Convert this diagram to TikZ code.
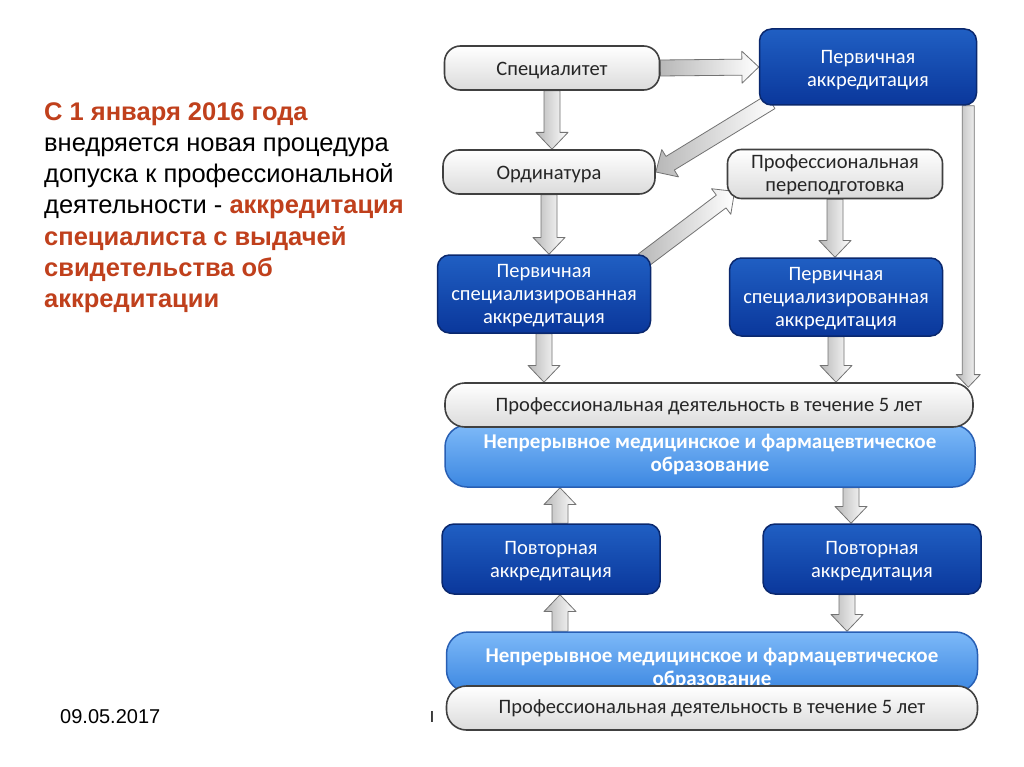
\documentclass[tikz,border=0pt]{standalone}
\usepackage{fontspec}
\setmainfont{Liberation Sans}
\newfontfamily\carl{Carlito}
\usetikzlibrary{calc}
\pgfdeclarelayer{bg}
\pgfdeclarelayer{paper}
\pgfsetlayers{paper,bg,main}
\definecolor{dkblueA}{RGB}{32,95,195}
\definecolor{dkblueB}{RGB}{10,55,155}
\definecolor{dkblueE}{RGB}{10,40,110}
\definecolor{ltblueA}{RGB}{125,185,248}
\definecolor{ltblueB}{RGB}{60,135,225}
\definecolor{ltblueE}{RGB}{40,95,180}
\definecolor{orng}{RGB}{192,64,28}
\tikzset{
  wbox/.style={rounded corners=16pt, draw=black!75, line width=1.6pt, top color=white, bottom color=black!14,
    text=black!85, inner sep=0pt, font=\carl\fontsize{20.5}{23}\selectfont},
  bbox/.style={rounded corners=12pt, draw=dkblueE, line width=1.5pt, top color=dkblueA, bottom color=dkblueB,
    text=white, inner sep=0pt, font=\carl\fontsize{20.5}{23}\selectfont},
  lbox/.style={rounded corners=22pt, draw=ltblueE, line width=1.5pt, top color=ltblueA, bottom color=ltblueB,
    text=white, inner sep=0pt, font=\carl\bfseries\fontsize{21}{23}\selectfont},
  arrbody/.style={draw=black!55, line width=0.8pt, left color=black!28, right color=white, line join=round},
}
% text block; #1 = how far the text is moved down inside its box
\newcommand\bt[2][2.5pt]{\raisebox{0pt}[\dimexpr\height+#1+#1\relax][\depth]{\begin{tabular}{@{}c@{}}#2\end{tabular}}}
% block arrow from #2 to #3, #1 = shaft half width (pt)
\newcommand\barrow[3][8]{%
  \path let \p1=(#2), \p2=(#3), \n1={atan2(\y2-\y1,\x2-\x1)}, \n2={veclen(\x2-\x1,\y2-\y1)} in
    \pgfextra{\xdef\bang{\n1}\xdef\blen{\n2}\xdef\bx{\x1}\xdef\by{\y1}};
  \begin{scope}[shift={(\bx,\by)}, rotate=\bang]
    \pgfmathsetmacro\hw{2*#1}
    \pgfmathsetmacro\hl{2.1*#1}
    \draw[arrbody] (0pt,-#1pt) -- ({\blen-\hl pt},-#1pt) -- ({\blen-\hl pt},-\hw pt) -- (\blen,0pt)
      -- ({\blen-\hl pt},\hw pt) -- ({\blen-\hl pt},#1pt) -- (0pt,#1pt) -- cycle;
  \end{scope}}
\begin{document}
\begin{tikzpicture}[x=1pt,y=-1pt]
\useasboundingbox (0,0) rectangle (1024,767);
\begin{pgfonlayer}{paper}
\fill[white] (0,0) rectangle (1024,767);
\end{pgfonlayer}

% left text
\node[anchor=north west, align=left, inner sep=0pt, font=\fontsize{25.5}{31.3}\selectfont] (txt) at (44,102)
  {\textcolor{orng}{\bfseries С 1 января 2016 года}\\
   внедряется новая процедура\\
   допуска к профессиональной\\
   деятельности - \textcolor{orng}{\bfseries аккредитация}\\
   \textcolor{orng}{\bfseries специалиста с выдачей}\\
   \textcolor{orng}{\bfseries свидетельства об}\\
   \textcolor{orng}{\bfseries аккредитации}};
\node[anchor=west, inner sep=0pt, font=\fontsize{20}{22}\selectfont] (date) at (60,717) {09.05.2017};
\node[inner sep=0pt, font=\fontsize{16}{18}\selectfont] (pg) at (432,717) {I};

% boxes
\node[wbox, minimum width=215pt, minimum height=44pt] (spec) at (552,68) {\bt{Специалитет}};
\node[bbox, minimum width=217pt, minimum height=76pt] (perv) at (868,67) {\bt[3pt]{Первичная\\аккредитация}};
\node[wbox, minimum width=212pt, minimum height=44pt] (ord) at (549,172) {\bt{Ординатура}};
\node[wbox, minimum width=215pt, minimum height=46pt, rounded corners=14pt] (perep) at (835,174) {\bt[1.5pt]{Профессиональная\\переподготовка}};
\node[bbox, minimum width=213pt, minimum height=78pt] (psl) at (544,294) {\bt[2pt]{Первичная\\специализированная\\аккредитация}};
\node[bbox, minimum width=213pt, minimum height=78pt] (psr) at (836,297) {\bt[2pt]{Первичная\\специализированная\\аккредитация}};
\node[lbox, minimum width=530pt, minimum height=62pt] (nm1) at (710,456) {\bt[-1pt]{Непрерывное медицинское и фармацевтическое\\образование}};
\node[wbox, minimum width=528pt, minimum height=44pt, rounded corners=20pt] (pd1) at (709,405) {\bt[2pt]{Профессиональная деятельность в течение 5 лет}};
\node[bbox, minimum width=218pt, minimum height=70pt] (pov1) at (551,559) {\bt[2pt]{Повторная\\аккредитация}};
\node[bbox, minimum width=218pt, minimum height=70pt] (pov2) at (872,559) {\bt[2pt]{Повторная\\аккредитация}};
\node[lbox, minimum width=531pt, minimum height=60pt] (nm2) at (712,662) {\bt[7pt]{Непрерывное медицинское и фармацевтическое\\образование}};
\node[wbox, minimum width=531pt, minimum height=44pt, rounded corners=20pt] (pd2) at (712,708) {\bt[1pt]{Профессиональная деятельность в течение 5 лет}};

% arrows
\begin{pgfonlayer}{bg}
\barrow{spec.east}{perv.west}
\barrow{spec.south}{spec.south |- ord.north}
\barrow{$(perv.south west)+(12,-4)$}{ord.east}
\barrow{ord.south}{ord.south |- psl.north}
\barrow{$(psl.north east)+(-8,6)$}{$(perep.south west)+(8,-8)$}
\barrow{perep.south}{perep.south |- psr.north}
\barrow{psl.south}{psl.south |- pd1.north}
\barrow{psr.south}{psr.south |- pd1.north}
\barrow[6]{$(perv.south east)+(-9,0)$}{$(perv.south east |- pd1.north)+(-9,5)$}
\barrow{$(pov1.north)+(9,0)$}{$(pov1.north |- nm1.south)+(9,0)$}
\barrow{$(pov2.north |- nm1.south)+(-21,0)$}{$(pov2.north)+(-21,0)$}
\barrow{$(pov1.south |- nm2.north)+(9,0)$}{$(pov1.south)+(9,0)$}
\barrow{$(pov2.south)+(-25,0)$}{$(pov2.south |- nm2.north)+(-25,0)$}
\end{pgfonlayer}
\end{tikzpicture}
\end{document}
